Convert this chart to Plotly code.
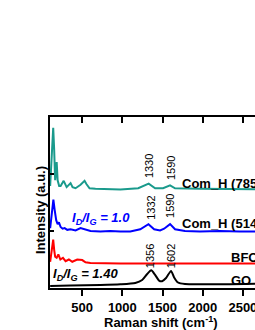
import plotly.graph_objects as go

# ---------------- data ----------------
# Com_H (785 nm) – teal, stacked on top
x_785 = [102, 127, 140, 152, 164, 177, 183, 195, 214, 232, 270, 307, 332, 356, 381,
         418, 480, 530, 555, 592, 666, 976, 1198, 1328, 1408, 1507, 1594, 1656, 1965, 2646, 2893]
y_785 = [1.79, 2.42, 2.81, 2.42, 1.89, 2.07, 2.21, 1.89, 1.79, 1.79, 1.88, 1.77, 1.81, 1.84, 1.77,
         1.75, 1.81, 1.88, 1.82, 1.75, 1.74, 1.73, 1.75, 1.83, 1.75, 1.75, 1.80, 1.75, 1.74, 1.73, 1.73]

# Com_H (514 nm) – blue
x_514 = [102, 121, 142, 158, 177, 195, 211, 232, 257, 282, 315, 356, 418, 480, 530, 604,
         727, 851, 975, 1099, 1223, 1325, 1396, 1470, 1520, 1594, 1656, 1780, 1966, 2213, 2460, 2708, 2893]
y_514 = [1.05, 1.28, 1.55, 1.37, 1.19, 1.12, 1.15, 1.07, 1.04, 1.05, 1.02, 1.03, 1.01, 1.05, 1.03, 1.00,
         0.99, 1.00, 0.99, 0.99, 1.03, 1.12, 1.03, 1.01, 1.04, 1.12, 1.03, 1.00, 0.99, 1.00, 0.99, 0.99, 0.99]

# BFO – red
x_bfo = [102, 121, 140, 152, 164, 183, 204, 229, 261, 294, 335, 377, 439, 501, 542, 604, 975, 2893]
y_bfo = [0.46, 0.63, 0.85, 0.67, 0.55, 0.53, 0.59, 0.50, 0.53, 0.47, 0.50, 0.46, 0.50, 0.49, 0.45, 0.44, 0.43, 0.43]

# GO – black
x_go = [102, 356, 727, 975, 1161, 1247, 1309, 1359, 1408, 1457, 1495, 1544, 1606, 1643, 1693,
        1780, 1965, 2337, 2708, 2893]
y_go = [0.035, 0.044, 0.053, 0.065, 0.088, 0.14, 0.245, 0.31, 0.23, 0.13, 0.12, 0.175, 0.30, 0.19, 0.096,
        0.07, 0.065, 0.067, 0.074, 0.079]

series_names = ["Com_H (785 nm)", "Com_H (514 nm)", "BFO", "GO"]
series_colors = ["#1a9a8c", "#0000ff", "#ff0000", "#000000"]
series_shapes = ["linear", "linear", "linear", "spline"]

# peak labels: (wavenumber text, x, y)
peak_text = ["1330", "1590", "1332", "1590", "1356", "1602"]
peak_x = [1326, 1597, 1346, 1594, 1346, 1600]
peak_y = [2.13, 2.11, 1.41, 1.44, 0.56, 0.55]

ratio_text = ["1.0", "1.40"]

x_ticks = [500, 1000, 1500, 2000, 2500]

FONT = "Liberation Sans, Arial, sans-serif"

fig = go.Figure()
for xs, ys, name, col, shp in zip([x_785, x_514, x_bfo, x_go], [y_785, y_514, y_bfo, y_go],
                                  series_names, series_colors, series_shapes):
    fig.add_trace(go.Scatter(x=xs, y=ys, mode="lines", name=name,
                             line=dict(color=col, width=2, shape=shp, smoothing=0.6),
                             showlegend=False))
# empty trace bound to the top axis so that it is drawn
fig.add_trace(go.Scatter(x=[], y=[], xaxis="x2", yaxis="y", showlegend=False, hoverinfo="skip"))

annotations = []
for t, px, py in zip(peak_text, peak_x, peak_y):
    annotations.append(dict(x=px, y=py, xref="x", yref="y", text=t, textangle=-90,
                            showarrow=False, font=dict(family=FONT, size=11, color="black"),
                            xanchor="center", yanchor="middle"))

label_pos = [(1718, 1.83), (1718, 1.14), (2324, 0.54), (2324, 0.13)]
for name, (lx, ly) in zip(series_names, label_pos):
    annotations.append(dict(x=lx, y=ly, xref="x", yref="y", text=name, showarrow=False,
                            font=dict(family=FONT, size=13, color="black", weight="bold"),
                            xanchor="left", yanchor="middle"))

annotations.append(dict(x=344, y=1.22, xref="x", yref="y",
                        text="<b><i>I<sub>D</sub>/I<sub>G</sub> = " + ratio_text[0] + "</i></b>",
                        showarrow=False, font=dict(family=FONT, size=13, color="#0000ff"),
                        xanchor="left", yanchor="middle"))
annotations.append(dict(x=109, y=0.23, xref="x", yref="y",
                        text="<b><i>I<sub>D</sub>/I<sub>G</sub> = " + ratio_text[1] + "</i></b>",
                        showarrow=False, font=dict(family=FONT, size=13, color="black"),
                        xanchor="left", yanchor="middle"))

annotations.append(dict(x=0.5, y=-0.196, xref="paper", yref="paper",
                        text="<b>Raman shift (cm<sup>-1</sup>)</b>", showarrow=False,
                        font=dict(family=FONT, size=13, color="black"),
                        xanchor="center", yanchor="middle"))
annotations.append(dict(x=-0.045, y=0.456, xref="paper", yref="paper",
                        text="<b>Intensity (a.u.)</b>", textangle=-90, showarrow=False,
                        font=dict(family=FONT, size=13, color="black"),
                        xanchor="center", yanchor="middle"))

fig.update_layout(
    width=300, height=330,
    margin=dict(l=50, r=29, t=117, b=42),
    paper_bgcolor="white", plot_bgcolor="white",
    annotations=annotations,
    xaxis=dict(range=[100, 2850], tickvals=x_ticks, ticks="outside", ticklen=6, tickwidth=1.5,
               tickcolor="black", showline=True, linecolor="black", linewidth=2, mirror=False,
               showgrid=False, zeroline=False,
               tickfont=dict(family=FONT, size=13, color="black", weight="bold")),
    xaxis2=dict(range=[100, 2850], overlaying="x", side="top", tickvals=x_ticks, ticks="inside",
                ticklen=6, tickwidth=1.5, tickcolor="black", showline=True, linecolor="black",
                linewidth=2, showticklabels=False, showgrid=False, zeroline=False),
    yaxis=dict(range=[0, 3], dtick=1, ticks="inside", ticklen=4, tickwidth=1.5, tickcolor="black",
               showline=True, linecolor="black", linewidth=2, showticklabels=False,
               showgrid=False, zeroline=False),
)

fig.write_html("out.html", config={"displayModeBar": False},
               post_script="document.body.style.margin='0';document.body.style.overflow='hidden';")
